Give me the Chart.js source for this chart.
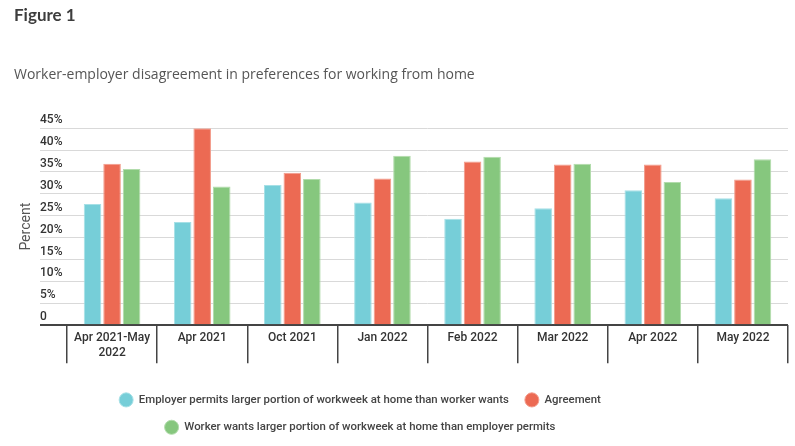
<!DOCTYPE html>
<html lang="en">
<head>
<meta charset="UTF-8">
<title>Figure 1</title>
<script src="https://cdn.jsdelivr.net/npm/chart.js@4.4.1/dist/chart.umd.min.js"></script>
<style>
  html,body{margin:0;padding:0;background:#fff;}
  #wrap{width:795px;height:446px;position:relative;}
</style>
</head>
<body>
<div id="wrap"><canvas id="chart"></canvas></div>
<script>
// values (percent)
const categories = [['Apr 2021-May', '2022'], 'Apr 2021', 'Oct 2021', 'Jan 2022', 'Feb 2022', 'Mar 2022', 'Apr 2022', 'May 2022'];
const employerPermitsMore = [27.7, 23.6, 32.0, 28.0, 24.3, 26.7, 30.8, 29.0];
const agreement = [36.9, 45.0, 34.8, 33.5, 37.4, 36.7, 36.7, 33.3];
const workerWantsMore = [35.7, 31.7, 33.4, 38.7, 38.5, 36.9, 32.7, 37.9];
const seriesNames = [
  'Employer permits larger portion of workweek at home than worker wants',
  'Agreement',
  'Worker wants larger portion of workweek at home than employer permits'
];
const yMax = 45;
const yStep = 5;

const CYAN = '#76CED8', RED = '#EC6A53', GREEN = '#86C77E';

function ds(label, data, fill, edge){
  return {label, data, backgroundColor: fill, borderColor: edge, borderWidth: 1,
    categoryPercentage: 0.65, barPercentage: 0.9};
}

// the legend in the figure is centred a bit left of the page middle
const legendShift = {
  id: 'legendShift',
  afterLayout(chart){
    const lg = chart.legend;
    if (!lg) return;
    lg.right = 706;
    lg.width = lg.right - lg.left;
  }
};

new Chart(document.getElementById('chart'), {
  type: 'bar',
  data: {
    labels: categories,
    datasets: [
      ds(seriesNames[0], employerPermitsMore, CYAN, '#A6E0E6'),
      ds(seriesNames[1], agreement, RED, '#F39C8B'),
      ds(seriesNames[2], workerWantsMore, GREEN, '#B2DCAC')
    ]
  },
  plugins: [legendShift],
  options: {
    responsive: true,
    maintainAspectRatio: false,
    animation: false,
    layout: {padding: {left: 14, right: 7, top: 0, bottom: 3}},
    plugins: {
      title: {
        display: true, text: 'Figure 1', align: 'start', color: '#3d3d3d',
        font: {family: 'Lato', size: 17, weight: 'bold'},
        padding: {top: 5, bottom: 0}
      },
      subtitle: {
        display: true, text: 'Worker-employer disagreement in preferences for working from home',
        align: 'start', color: '#555',
        font: {family: 'Open Sans', size: 14},
        padding: {top: 41, bottom: 45}
      },
      legend: {
        position: 'bottom',
        labels: {
          usePointStyle: true, pointStyle: 'circle', boxWidth: 10, boxHeight: 10, pointStyleWidth: 14,
          padding: 16, color: '#444',
          font: {family: 'Roboto', size: 11.4, weight: '500'}
        }
      },
      tooltip: {enabled: false}
    },
    scales: {
      x: {
        grid: {drawOnChartArea: false, drawTicks: true, tickLength: 38, color: '#444', lineWidth: 1.5, offset: true},
        border: {display: false},
        ticks: {color: '#333', padding: -32, maxRotation: 0, autoSkip: false,
          font: {family: 'Roboto', size: 12, weight: '500'}},
        afterFit: s => { s.height = 53; }
      },
      y: {
        min: 0, max: yMax,
        grid: {
          drawTicks: true, tickLength: 27,
          color: c => c.tick && c.tick.value === 0 ? '#444' : '#d9d9d9',
          lineWidth: c => c.tick && c.tick.value === 0 ? 2 : 1
        },
        border: {display: false},
        ticks: {
          stepSize: yStep, mirror: true, padding: -27, labelOffset: -8, color: '#333',
          font: {family: 'Roboto', size: 12, weight: '500'},
          callback: v => v === 0 ? '0' : v + '%'
        },
        title: {display: true, text: 'Percent', color: '#555', font: {family: 'Roboto', size: 14}, padding: {top: 4, bottom: 0}},
        afterFit: s => { s.width = 53; }
      }
    }
  }
});
</script>
</body>
</html>
